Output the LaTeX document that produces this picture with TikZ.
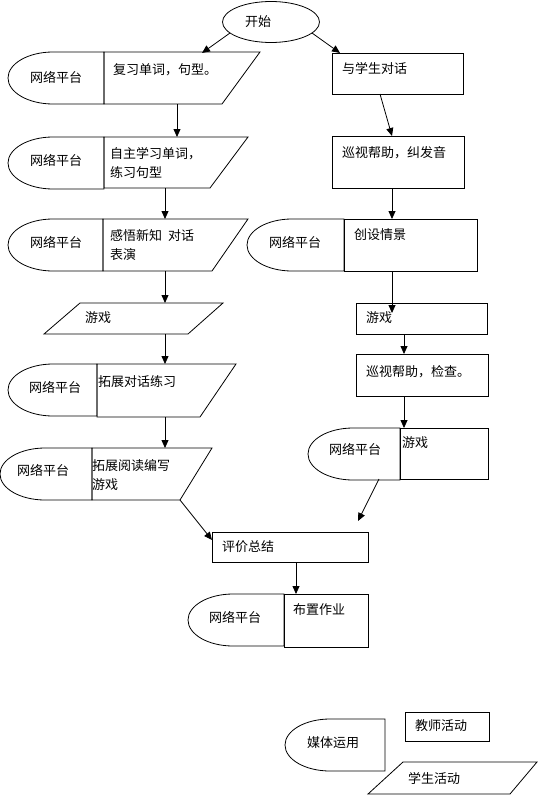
\documentclass[tikz,border=0pt]{standalone}
\usepackage{fontspec}
\newfontfamily\cjk{Noto Sans CJK SC}
\usetikzlibrary{arrows.meta,shapes.geometric}
\tikzset{
  line/.style={draw=black,line width=0.8pt},
  flow/.style={line,-{Triangle[length=8pt,width=7pt]}},
  txt/.style={font=\cjk\fontsize{13}{19}\selectfont,inner sep=0pt,anchor=west,align=left},
}
\newcommand\myoval[3]{\draw[line] (#2,#3) -- (#1+45,#3) arc[start angle=90,end angle=270,x radius=45pt,y radius=26pt] -- (#2,#3+52) -- cycle;}
\begin{document}
\begin{tikzpicture}[x=1pt,y=-1pt]
\useasboundingbox (0,0) rectangle (538,800);
\fill[white] (0,0) rectangle (538,800);

% start
\node[line,ellipse,minimum width=97pt,minimum height=41pt,inner sep=0pt,outer sep=0pt] (start) at (271,22) {};
\node[txt] (tstart) at (245,22) {开始};

% left column
\myoval{8}{104}{52}
\draw[line] (104,52) -- (260,52) -- (222,104) -- (104,104) -- cycle;
\node[txt] (o1) at (30,77) {网络平台};
\node[txt] (t1) at (113,70) {复习单词，句型。};

\myoval{8}{104}{137}
\draw[line] (104,137) -- (248,137) -- (210,188) -- (104,188) -- cycle;
\node[txt] (o2) at (30,160) {网络平台};
\node[txt] (t2) at (110,163.5) {自主学习单词，\\练习句型};

\myoval{8}{103}{219}
\draw[line] (103,219) -- (248,219) -- (212,271) -- (103,271) -- cycle;
\node[txt] (o3) at (30,242) {网络平台};
\node[txt] (t3) at (110,245) {感悟新知~~对话\\表演};

\draw[line] (80,303) -- (223,303) -- (188,334) -- (44,334) -- cycle;
\node[txt] (tgame1) at (85,318) {游戏};

\myoval{8}{97}{364}
\draw[line] (97,364) -- (236,364) -- (200,417) -- (97,417) -- cycle;
\node[txt] (o4) at (29,387) {网络平台};
\node[txt] (t4) at (98,382) {拓展对话练习};

\myoval{0}{92}{448}
\draw[line] (92,448) -- (212,448) -- (180,500) -- (92,500) -- cycle;
\node[txt] (o5) at (17,470) {网络平台};
\node[txt] (t5) at (92,475) {拓展阅读编写\\游戏};

% bottom
\draw[line] (212,532) rectangle (368,562);
\node[txt] (teval) at (222,547) {评价总结};
\myoval{188}{284}{594}
\draw[line] (284,594) rectangle (368,647);
\node[txt] (o6) at (209,617) {网络平台};
\node[txt] (thw) at (293,610) {布置作业};

% right column
\draw[line] (332,53) rectangle (463,94);
\node[txt] (r1) at (342,69) {与学生对话};
\draw[line] (332,136) rectangle (464,188);
\node[txt] (r2) at (342,153) {巡视帮助，纠发音};
\myoval{247}{344}{219}
\draw[line] (344,219) rectangle (477,271);
\node[txt] (o7) at (269,242) {网络平台};
\node[txt] (r3) at (354,235) {创设情景};
\draw[line] (356,303) rectangle (487,334);
\node[txt] (rgame) at (366,318) {游戏};
\draw[line] (356,354) rectangle (488,396);
\node[txt] (r4) at (366,372) {巡视帮助，检查。};
\myoval{308}{400}{428}
\draw[line] (400,428) rectangle (488,479);
\node[txt] (o8) at (329,449) {网络平台};
\node[txt] (r5) at (402,443) {游戏};

% legend
\myoval{285}{385}{719}
\node[txt] (lmedia) at (307,743) {媒体运用};
\draw[line] (405,712) rectangle (489,741);
\node[txt] (lteacher) at (415,726) {教师活动};
\draw[line] (403,762) -- (537,762) -- (510,794) -- (368,794) -- cycle;
\node[txt] (lstudent) at (408,778) {学生活动};

% connector points
\coordinate (b1in) at (202,53);
\coordinate (b1out) at (177,104);
\coordinate (b2in) at (177,137);
\coordinate (b2out) at (165,188);
\coordinate (b3in) at (165,219);
\coordinate (b3out) at (165,271);
\coordinate (g1in) at (165,303);
\coordinate (g1out) at (165,334);
\coordinate (b4in) at (165,364);
\coordinate (b4out) at (165,417);
\coordinate (b5in) at (165,448);
\coordinate (b5out) at (180,500);
\coordinate (evalin) at (212,540);
\coordinate (evalout) at (296,562);
\coordinate (hwin) at (296,594);
\coordinate (r1in) at (340,53);
\coordinate (r1out) at (380,94);
\coordinate (r2in) at (392,136);
\coordinate (r2out) at (392,188);
\coordinate (r3in) at (392,219);
\coordinate (r3out) at (392,271);
\coordinate (rgin) at (392,313);
\coordinate (rgout) at (404,334);
\coordinate (r4in) at (404,354);
\coordinate (r4out) at (404,396);
\coordinate (r5in) at (404,428);
\coordinate (r5out) at (379,479);
\coordinate (freeend) at (358,521);

\draw[flow] (start.195) -- (b1in);
\draw[flow] (start.-15) -- (r1in);
\draw[flow] (b1out) -- (b2in);
\draw[flow] (b2out) -- (b3in);
\draw[flow] (b3out) -- (g1in);
\draw[flow] (g1out) -- (b4in);
\draw[flow] (b4out) -- (b5in);
\draw[flow] (b5out) -- (evalin);
\draw[flow] (evalout) -- (hwin);
\draw[flow] (r1out) -- (r2in);
\draw[flow] (r2out) -- (r3in);
\draw[flow] (r3out) -- (rgin);
\draw[flow] (rgout) -- (r4in);
\draw[flow] (r4out) -- (r5in);
\draw[flow] (r5out) -- (freeend);
\end{tikzpicture}
\end{document}
